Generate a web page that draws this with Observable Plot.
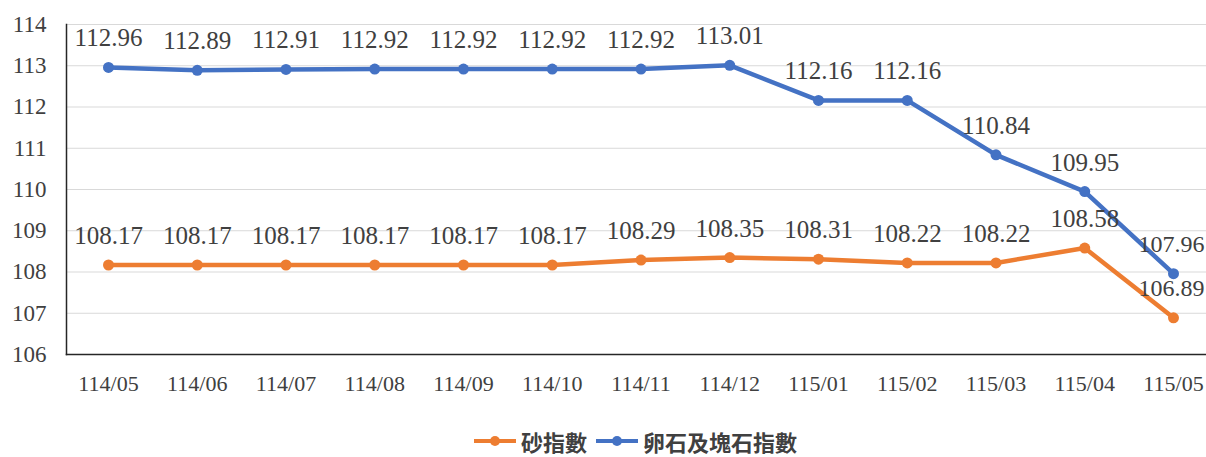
<!DOCTYPE html>
<html><head><meta charset="utf-8">
<script src="https://cdn.jsdelivr.net/npm/d3@7"></script>
<script src="https://cdn.jsdelivr.net/npm/@observablehq/plot@0.6"></script>
<style>
body{margin:0;background:#fff;overflow:hidden;}
#chart svg{display:block;}
#chart svg, #chart svg text{font-family:"Liberation Serif","Times New Roman",serif !important;}
#legend{display:flex;justify-content:center;align-items:center;height:42px;font-family:"Noto Sans CJK TC",serif;font-size:22px;font-weight:bold;color:#404040;padding-left:64px;line-height:1;}
.item{display:flex;align-items:center;margin:0 4px;}
</style></head>
<body>
<div id="chart"></div>
<div id="legend"></div>
<script>
const months = ["114/05","114/06","114/07","114/08","114/09","114/10","114/11","114/12","115/01","115/02","115/03","115/04","115/05"];
const sandIndex = [108.17,108.17,108.17,108.17,108.17,108.17,108.29,108.35,108.31,108.22,108.22,108.58,106.89];
const gravelIndex = [112.96,112.89,112.91,112.92,112.92,112.92,112.92,113.01,112.16,112.16,110.84,109.95,107.96];
const seriesNames = ["砂指數","卵石及塊石指數"];
const seriesColors = ["#ED7D31","#4472C4"];
const yTicks = [106,107,108,109,110,111,112,113,114];

const rows = [];
months.forEach((m,i)=>{
  rows.push({month:m, value:sandIndex[i], series:seriesNames[0], last:i===months.length-1});
  rows.push({month:m, value:gravelIndex[i], series:seriesNames[1], last:i===months.length-1});
});
const textColor = "#404040";
const chart = Plot.plot({
  width:1206, height:420,
  marginLeft:66, marginRight:0, marginTop:24, marginBottom:66,
  style:{background:"#fff"},
  x:{type:"point", domain:months, range:[108,1173], padding:0, round:false},
  y:{domain:[106,114]},
  color:{domain:seriesNames, range:seriesColors},
  marks:[
    Plot.gridY(yTicks.slice(1), {stroke:"#d9d9d9", strokeOpacity:1, strokeWidth:1.2}),
    Plot.axisY({ticks:yTicks, tickSize:0, tickPadding:20, fontSize:23, fill:textColor, label:null}),
    Plot.axisX({tickSize:0, tickPadding:21, fontSize:22, fill:textColor, label:null}),
    Plot.frame({anchor:"left", stroke:"#262626", strokeWidth:1.5}),
    Plot.frame({anchor:"bottom", stroke:"#262626", strokeWidth:1.5}),
    Plot.line(rows, {x:"month", y:"value", z:"series", stroke:"series", strokeWidth:4.5}),
    Plot.dot(rows, {x:"month", y:"value", fill:"series", r:5.5}),
    Plot.text(rows.filter(d=>!d.last), {x:"month", y:"value", text:d=>d.value.toFixed(2), dy:-29, fontSize:25, fill:textColor}),
    Plot.text(rows.filter(d=>d.last), {x:"month", y:"value", text:d=>d.value.toFixed(2), dy:-29, dx:-2, textAnchor:"middle", fontSize:24, fill:textColor})
  ]
});
document.getElementById("chart").appendChild(chart);

const leg = document.getElementById("legend");
seriesNames.forEach((n,i)=>{
  const it = document.createElement("div"); it.className="item";
  it.innerHTML = `<svg width="44" height="14"><line x1="1" y1="7" x2="43" y2="7" stroke="${seriesColors[i]}" stroke-width="4"/><circle cx="22" cy="7" r="5" fill="${seriesColors[i]}"/></svg><span style="margin-left:4px">${n}</span>`;
  leg.appendChild(it);
});
</script>
</body></html>
